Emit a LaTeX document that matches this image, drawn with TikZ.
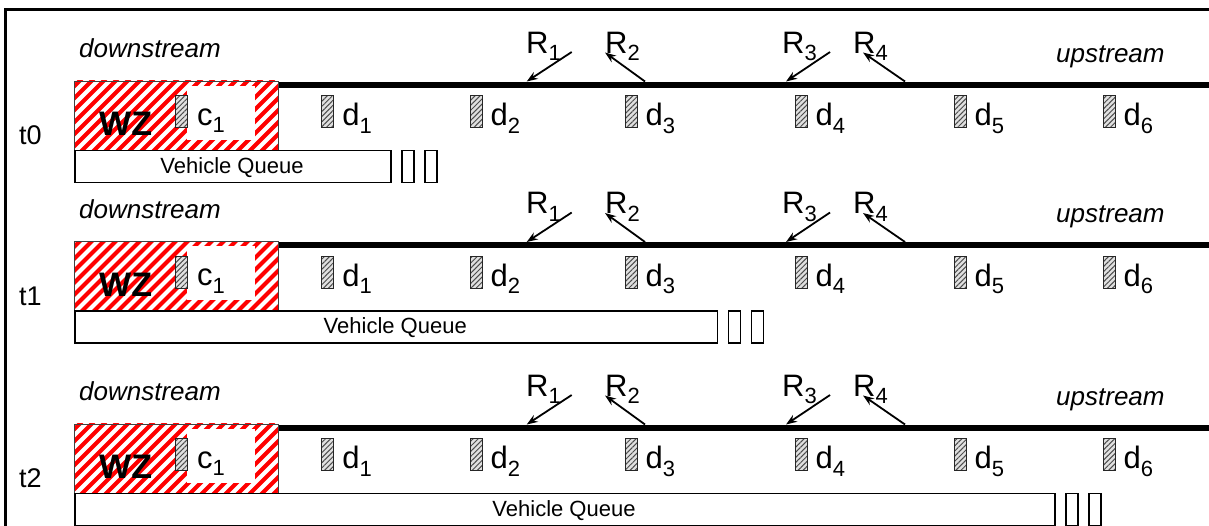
\documentclass[tikz,border=0pt]{standalone}
\usepackage{fontspec}
\setmainfont{Liberation Sans}
\usetikzlibrary{arrows.meta,patterns.meta}

% label with a lowered index, e.g. d_1, R_1, c_1
\newcommand\idx[2]{#1\raisebox{-7.5pt}{\fontsize{22}{22}\selectfont #2}}

\tikzset{
  frameline/.style={line width=3pt},
  roadline/.style={line width=6pt},
  stripe/.style={red, line width=4pt},
  wzedge/.style={draw=black!75, line width=1.2pt},
  qbox/.style={draw, line width=1.6pt},
  detbox/.style={draw=black!85, line width=1pt, inner sep=0pt,
    minimum width=12pt, minimum height=32pt,
    preaction={fill=black!12},
    pattern={Lines[angle=45,distance=3.6pt,line width=1pt]}, pattern color=black!70},
  ramp/.style={line width=1.8pt, -{Stealth[length=11pt,width=8pt]}},
  lbl/.style={font=\fontsize{31}{31}\selectfont, inner sep=0pt, anchor=base west},
  dirlbl/.style={font=\fontsize{26}{26}\selectfont\itshape, inner sep=0pt, anchor=base west},
  timelbl/.style={font=\fontsize{27}{27}\selectfont, inner sep=0pt, anchor=base west},
  wzlbl/.style={font=\fontsize{34}{34}\selectfont\bfseries, inner sep=0pt, anchor=base west},
  qlbl/.style={font=\fontsize{22}{22}\selectfont, inner sep=0pt, anchor=base},
}

% one time step: #1 = time label, #2 = y of the road, #3 = right end of the queue
\newcommand\timestep[3]{%
\begin{scope}[shift={(0,#2)}]
  % work zone: red diagonal stripes
  \begin{scope}
    \clip (74,-4) rectangle (278,65);
    \foreach \k in {-20,-8,...,300} {\draw[stripe] (\k,72) -- ++(84,-84);}
  \end{scope}
  \fill[white] (187,1) rectangle (255,55);
  \node[wzedge, anchor=north west, minimum width=204pt, minimum height=69pt, inner sep=0pt]
    (wz-#1) at (74,-4) {};
  \node[wzlbl] (wzt-#1) at (99,51) {WZ};
  \node[detbox] (c-#1) at (181,27) {};
  \node[lbl] (ct-#1) at (197,40.5) {\idx{c}{1}};
  % road
  \coordinate (roadend-#1) at (1230,0);
  \draw[roadline] (wz-#1.north east) ++(0,4) -- (roadend-#1);
  % detectors
  \foreach \x [count=\i] in {321.7,470,625,795,954,1103} {
    \node[detbox] (d\i-#1) at (\x+6,27) {};
    \node[lbl] (dt\i-#1) at (\x+20.5,41) {\idx{d}{\i}};
  }
  % ramps
  \coordinate (r1a-#1) at (571.7,-32.5); \coordinate (r1b-#1) at (526.7,-3);
  \coordinate (r2a-#1) at (645,-3);      \coordinate (r2b-#1) at (605,-32);
  \coordinate (r3a-#1) at (830,-32.5);   \coordinate (r3b-#1) at (786,-3);
  \coordinate (r4a-#1) at (905,-3);      \coordinate (r4b-#1) at (863,-32);
  \draw[ramp] (r1a-#1) -- (r1b-#1);
  \draw[ramp] (r2a-#1) -- (r2b-#1);
  \draw[ramp] (r3a-#1) -- (r3b-#1);
  \draw[ramp] (r4a-#1) -- (r4b-#1);
  \node[lbl] (rt1-#1) at (526,-31.5) {\idx{R}{1}};
  \node[lbl] (rt2-#1) at (605,-31.5) {\idx{R}{2}};
  \node[lbl] (rt3-#1) at (782,-31.5) {\idx{R}{3}};
  \node[lbl] (rt4-#1) at (853,-31.5) {\idx{R}{4}};
  % direction labels
  \node[dirlbl] (down-#1) at (79,-27) {downstream};
  \node[dirlbl] (up-#1) at (1056,-22.5) {upstream};
  \node[timelbl] (tl-#1) at (19,60) {#1};
  % vehicle queue
  \node[qbox, anchor=north west, minimum width={#3-74}, minimum height=32pt, inner sep=0pt]
    (q-#1) at (74,65) {};
  \node[qlbl] (qt-#1) at ({(74+#3)/2},88.5) {Vehicle Queue};
  \node[qbox, anchor=north west, minimum width=12pt, minimum height=32pt, inner sep=0pt]
    (qa-#1) at (#3+11,65) {};
  \node[qbox, anchor=north west, minimum width=12pt, minimum height=32pt, inner sep=0pt]
    (qb-#1) at (#3+34,65) {};
\end{scope}}

\begin{document}
\begin{tikzpicture}[x=1pt,y=-1pt]
  \useasboundingbox (0,0) rectangle (1209,525);
  \clip (0,0) rectangle (1209,525);
  \fill[white] (0,0) rectangle (1209,525);
  \draw[frameline] (5.5,540) |- (1230,9.5);
  \timestep{t0}{84.5}{390}
  \timestep{t1}{245}{716.5}
  \timestep{t2}{427.5}{1054}
\end{tikzpicture}
\end{document}
